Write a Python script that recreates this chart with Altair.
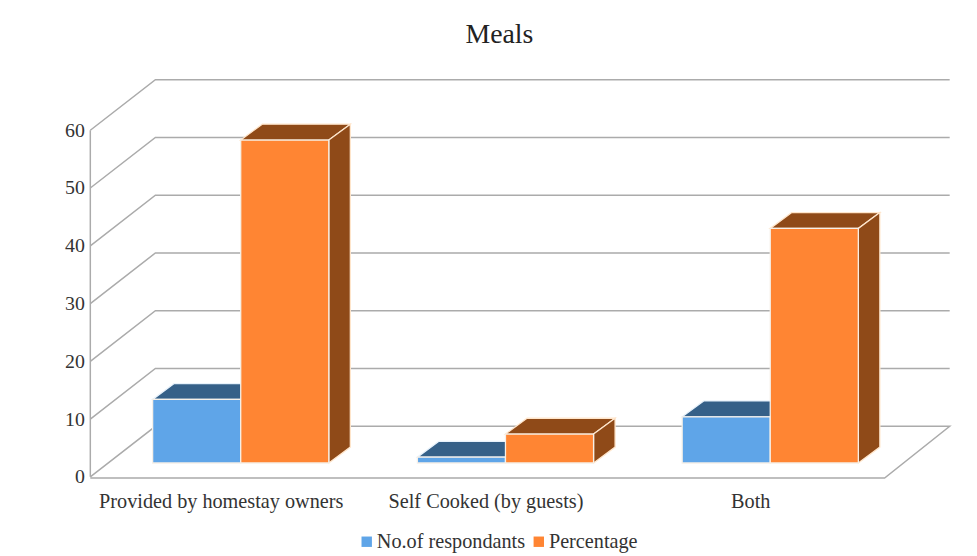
import altair as alt
import pandas as pd

categories = ["Provided by homestay owners", "Self Cooked (by guests)", "Both"]
series_names = ["No.of respondants", "Percentage"]
respondents = [11, 1, 8]
percentage = [55.9, 5, 40.6]
y_ticks = [0, 10, 20, 30, 40, 50, 60]

FRONT = {"No.of respondants": "#5fa5e8", "Percentage": "#ff8533"}
DARK = {"No.of respondants": "#356088", "Percentage": "#8f4a18"}
EDGE = {"No.of respondants": "#e8f2fb", "Percentage": "#ffe6cc"}
GRID = "#ababab"
FONT = "Liberation Serif"

PX_X = 264.5      # pixels per category
PX_Y = 5.825      # pixels per value unit
W, H = 865, 400
XMAX, YMAX = 857 / PX_X, H / PX_Y

WALL_DX, WALL_DY = 65 / PX_X, 51 / PX_Y
BAR_DX, BAR_DY = 18 / PX_X, 14 / PX_Y      # shift of the bar fronts into the box
SIDE_DX, SIDE_DY = 21.5 / PX_X, 16 / PX_Y    # depth of a bar
BAR_W = 88 / PX_X

# wall and floor lines
rows = []
for v in y_ticks:
    rows.append({"g": v, "i": 0, "x": 0, "y": v})
    rows.append({"g": v, "i": 1, "x": WALL_DX, "y": v + WALL_DY})
    rows.append({"g": v, "i": 2, "x": len(categories) + WALL_DX, "y": v + WALL_DY})
rows.append({"g": 0, "i": 3, "x": len(categories), "y": -0.2})
rows.append({"g": 0, "i": 4, "x": 0, "y": -0.2})
grid_df = pd.DataFrame(rows)
edge_df = pd.DataFrame({"x": [0, 0], "y": [0, y_ticks[-1]], "i": [0, 1]})

# bar faces
fronts, tops, sides = [], [], []
for c, cat in enumerate(categories):
    for s, (name, vals) in enumerate(zip(series_names, [respondents, percentage])):
        x0 = c + 0.5 + BAR_DX + (s - 1) * BAR_W
        x1 = x0 + BAR_W
        y0 = BAR_DY
        y1 = BAR_DY + vals[c]
        bar = f"{c}-{s}"
        fronts.append({"bar": bar, "series": name, "x": x0, "x2": x1, "y": y0, "y2": y1})
        tops.append({"bar": bar, "series": name, "x": x0, "x2": x1, "y": y1})
        tops.append({"bar": bar, "series": name, "x": x0 + SIDE_DX, "x2": x1 + SIDE_DX, "y": y1 + SIDE_DY})
        sides.append({"bar": bar, "series": name, "x": x1, "y": y0, "y2": y1})
        sides.append({"bar": bar, "series": name, "x": x1 + SIDE_DX, "y": y0 + SIDE_DY, "y2": y1 + SIDE_DY})
fronts, tops, sides = map(pd.DataFrame, (fronts, tops, sides))

xs = alt.Scale(domain=[0, XMAX], nice=False, zero=False)
ys = alt.Scale(domain=[0, YMAX], nice=False, zero=False)

label_js = "[" + ",".join(f"'{c}'" for c in categories) + "][floor(datum.value)]"
x_axis = alt.Axis(
    values=[0.5, 1.5, 2.5], labelExpr=label_js, domain=False, ticks=False, grid=False,
    labelFont=FONT, labelFontSize=20.4, labelColor="#333333", labelPadding=15,
    labelOffset=-2, labelOverlap=False, labelFlush=False, labelLimit=600,
)
y_axis = alt.Axis(
    values=y_ticks, domain=False, ticks=False, grid=False, labelFont=FONT,
    labelFontSize=20, labelColor="#333333", labelPadding=6,
)
X = alt.X("x:Q", scale=xs, axis=x_axis, title=None)
Y = alt.Y("y:Q", scale=ys, axis=y_axis, title=None)

grid = alt.Chart(grid_df).mark_line(color=GRID, strokeWidth=1.5).encode(
    x=X, y=Y, detail="g:N", order="i:Q",
)
edge = alt.Chart(edge_df).mark_line(color=GRID, strokeWidth=1.5).encode(x=X, y=Y, order="i:Q")


def face_layers(mark_fn, df, enc):
    out = []
    for name in series_names:
        sub = df[df["series"] == name]
        out.append(
            alt.Chart(sub).mark_area(**mark_fn, color=DARK[name], stroke=EDGE[name], strokeWidth=1.3).encode(
                detail="bar:N", **enc
            )
        )
    return out


top_layers = face_layers({"orient": "horizontal"}, tops, {"x": X, "x2": "x2:Q", "y": Y})
side_layers = face_layers({"orient": "vertical"}, sides, {"x": X, "y": Y, "y2": "y2:Q"})

front = alt.Chart(fronts).mark_rect(stroke="#f6f0e8", strokeWidth=1.3).encode(
    x=X,
    x2="x2:Q",
    y=Y,
    y2="y2:Q",
    color=alt.Color(
        "series:N",
        scale=alt.Scale(domain=series_names, range=[FRONT[n] for n in series_names]),
        legend=alt.Legend(
            title=None, orient="none", legendX=268.5, legendY=455, direction="horizontal",
            columns=2, symbolType="square", symbolSize=110, symbolStrokeWidth=0,
            labelFont=FONT, labelFontSize=20.4, labelColor="#333333",
            columnPadding=3.5, labelOffset=0, labelLimit=400,
        ),
    ),
)

chart = alt.layer(grid, edge, *top_layers, *side_layers, front).properties(
    width=W,
    height=H,
    padding={"left": 83, "top": 70.5, "right": 21, "bottom": 76},
    autosize=alt.AutoSizeParams(type="none"),
    title=alt.TitleParams(
        "Meals", font=FONT, fontSize=28, fontWeight="normal", color="#222222",
        anchor="middle", dx=-20, offset=28,
    ),
).configure_view(stroke=None)

chart.save("out.html", embed_options={"renderer": "svg", "actions": False})
